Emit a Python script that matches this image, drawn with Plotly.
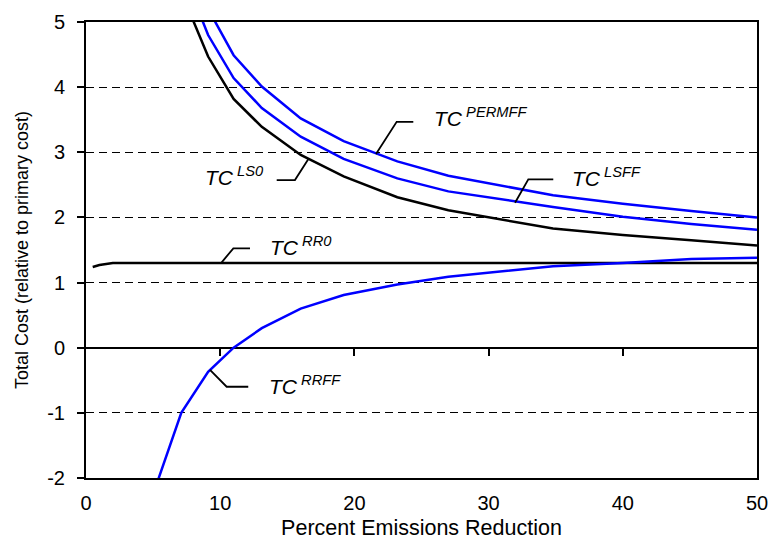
import plotly.graph_objects as go

# ---- data ----
x_main = [7.1, 9.1, 11.0, 13.1, 16.0, 19.2, 23.2, 27.0, 34.8, 40.0, 45.1, 50.0]
tc_ls0 = [5.46, 4.47, 3.82, 3.39, 2.96, 2.63, 2.31, 2.11, 1.83, 1.73, 1.65, 1.57]
tc_lsff = [5.84, 4.80, 4.14, 3.68, 3.24, 2.90, 2.60, 2.40, 2.16, 2.01, 1.90, 1.81]
tc_permff = [5.90, 5.20, 4.49, 4.01, 3.52, 3.17, 2.86, 2.64, 2.34, 2.21, 2.10, 2.00]

x_rrff = [5.0, 7.1, 9.1, 11.0, 13.1, 16.0, 19.2, 23.2, 27.0, 34.8, 40.0, 45.1, 50.0]
tc_rrff = [-2.25, -1.0, -0.37, 0.0, 0.30, 0.60, 0.81, 0.97, 1.09, 1.25, 1.30, 1.36, 1.38]

x_rr0 = [0.5, 1.0, 2.0, 5.0, 10.0, 20.0, 30.0, 40.0, 50.0]
tc_rr0 = [1.24, 1.27, 1.30, 1.30, 1.30, 1.30, 1.30, 1.30, 1.30]

x_ticks = [0, 10, 20, 30, 40, 50]
y_ticks = [-2, -1, 0, 1, 2, 3, 4, 5]
y_ticktext = ["-2", "-1", "0", "1", "2", "3", "4", "5"]

# label texts, text anchor (left, middle) and leader-line points in data units
labels = [
    ("PERMFF", 25.76, 3.54, [(24.39, 3.468), (23.15, 3.468), (21.61, 2.974)]),
    ("LSFF", 36.07, 2.625, [(34.82, 2.585), (32.96, 2.585), (31.97, 2.226)]),
    ("LS0", 8.72, 2.636, [(14.21, 2.574), (15.57, 2.574), (16.56, 2.892)]),
    ("RR0", 13.58, 1.566, [(12.22, 1.526), (10.98, 1.526), (10.11, 1.311)]),
    ("RRFF", 13.47, -0.573, [(12.09, -0.599), (10.48, -0.599), (9.24, -0.342)]),
]

BLUE = "#0000ff"
FONT = "Liberation Sans, Arial, sans-serif"

fig = go.Figure()
fig.add_trace(go.Scatter(x=x_main, y=tc_ls0, mode="lines", line=dict(color="black", width=2.5), hoverinfo="skip"))
fig.add_trace(go.Scatter(x=x_main, y=tc_lsff, mode="lines", line=dict(color=BLUE, width=2.5), hoverinfo="skip"))
fig.add_trace(go.Scatter(x=x_main, y=tc_permff, mode="lines", line=dict(color=BLUE, width=2.5), hoverinfo="skip"))
fig.add_trace(go.Scatter(x=x_rr0, y=tc_rr0, mode="lines", line=dict(color="black", width=2.5), hoverinfo="skip"))
fig.add_trace(go.Scatter(x=x_rrff, y=tc_rrff, mode="lines", line=dict(color=BLUE, width=2.5), hoverinfo="skip"))
# invisible trace to make the tick axis on the zero line exist
fig.add_trace(go.Scatter(x=x_rr0, y=tc_rr0, xaxis="x2", mode="lines", line=dict(width=0), hoverinfo="skip"))

for name, tx, ty, pts in labels:
    fig.add_annotation(
        x=tx, y=ty, xref="x", yref="y", xanchor="left", yanchor="middle",
        text=f"<i>TC</i><sup> <i>{name}</i></sup>", showarrow=False,
        font=dict(family=FONT, size=21, color="black"),
    )
    path = "M " + " L ".join(f"{px},{py}" for px, py in pts)
    fig.add_shape(type="path", path=path, xref="x", yref="y",
                  line=dict(color="black", width=1.8))

fig.update_layout(
    width=772, height=540,
    margin=dict(l=86, r=15, t=22, b=62),
    plot_bgcolor="white", paper_bgcolor="white",
    showlegend=False,
    font=dict(family=FONT, size=20, color="black"),
    xaxis=dict(
        range=[0, 50], tickvals=x_ticks, ticks="", showgrid=False, zeroline=False,
        showline=True, linecolor="black", linewidth=1.5, mirror=True, automargin=False,
        title=dict(text="Percent Emissions Reduction", font=dict(size=21.5), standoff=9),
        tickfont=dict(size=20), ticklabelstandoff=6,
    ),
    xaxis2=dict(
        range=[0, 50], matches="x", overlaying="x", anchor="free", position=2 / 7,
        side="bottom", tickvals=x_ticks[1:-1], ticks="outside", ticklen=7,
        tickwidth=1.5, tickcolor="black", showticklabels=False, automargin=False,
        showline=False, showgrid=False, zeroline=False,
    ),
    yaxis=dict(
        range=[-2, 5], tickvals=y_ticks, ticktext=y_ticktext, ticks="outside", ticklen=7,
        tickwidth=1.5, tickcolor="black", showgrid=True, gridcolor="black", gridwidth=1,
        griddash="8px,5px", zeroline=True, zerolinecolor="black", zerolinewidth=1.8,
        showline=True, linecolor="black", linewidth=2, mirror=True, automargin=False,
        title=dict(text="Total Cost (relative to primary cost)", font=dict(size=18), standoff=14),
        tickfont=dict(size=20), ticklabelstandoff=8,
    ),
)

fig.write_html("out.html", config={"displayModeBar": False},
               post_script="document.body.style.margin='0';")
